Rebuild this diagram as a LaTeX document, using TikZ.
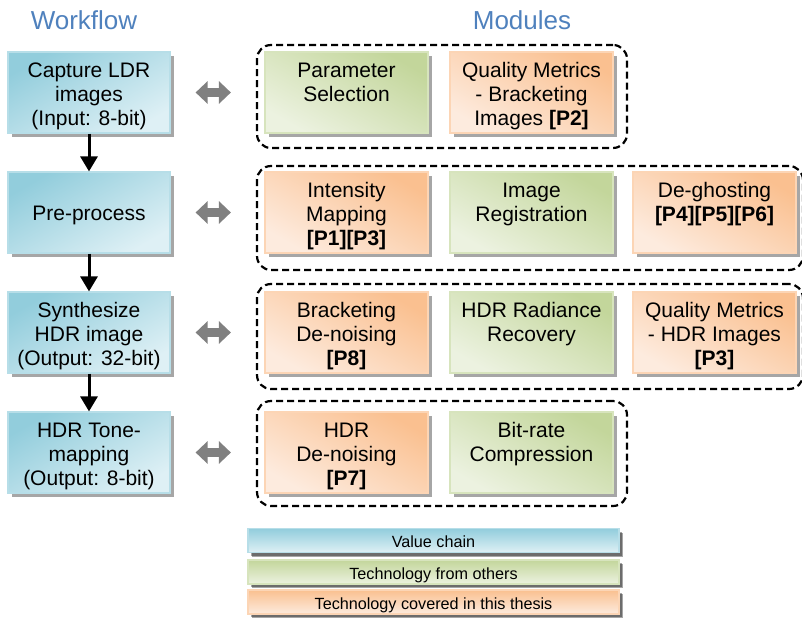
\documentclass[tikz,border=0pt]{standalone}
\usepackage{fontspec}
\setmainfont{Liberation Sans}
\usetikzlibrary{arrows.meta,shadows}
\definecolor{titleblue}{RGB}{79,129,189}
\definecolor{bluedark}{RGB}{146,205,220}
\definecolor{bluelight}{RGB}{222,240,245}
\definecolor{blueline}{RGB}{183,222,232}
\definecolor{greendark}{RGB}{195,214,155}
\definecolor{greenlight}{RGB}{236,242,224}
\definecolor{greenline}{RGB}{215,228,189}
\definecolor{orangedark}{RGB}{250,192,144}
\definecolor{orangelight}{RGB}{253,235,222}
\definecolor{orangeline}{RGB}{252,213,181}
\definecolor{arrowgray}{RGB}{128,128,128}
\newcommand\mybxt[1]{\parbox[c][63.8pt][t]{160pt}{\centering\strut #1}}
\begin{document}
\begin{tikzpicture}[x=1pt,y=-1pt,
  basebox/.style={rectangle, inner sep=0pt, align=center, line width=1.2pt,
    font=\fontsize{21}{24}\selectfont,
    drop shadow={shadow xshift=4pt, shadow yshift=-4pt, fill=black, opacity=0.35}},
  wbox/.style={basebox, minimum width=162pt, minimum height=81pt,
    draw=blueline, top color=bluedark, bottom color=bluelight, shading angle=30},
  gbox/.style={basebox, minimum width=163pt, minimum height=81pt,
    draw=greenline, top color=greendark, bottom color=greenlight, shading angle=-30},
  obox/.style={basebox, minimum width=163pt, minimum height=81pt,
    draw=orangeline, top color=orangedark, bottom color=orangelight, shading angle=-30},
  lbar/.style={basebox, minimum width=371pt, minimum height=24pt,
    font=\fontsize{16.2}{18}\selectfont,
    text height=15pt, text depth=1pt,
    drop shadow={shadow xshift=3pt, shadow yshift=-3pt, fill=black, opacity=0.35}},
  grp/.style={draw=black, line width=2.2pt, dash pattern=on 7pt off 4pt,
    rounded corners=14pt, inner sep=0pt},
  ttl/.style={text=titleblue, font=\fontsize{26}{30}\selectfont},
  varrow/.style={line width=3pt, -{Triangle[length=15pt,width=17pt]}},
  dbl/.style={line width=9pt, draw=arrowgray,
    {Triangle[length=12pt,width=22pt]}-{Triangle[length=12pt,width=22pt]},
    shorten <=25pt, shorten >=25pt}
]
\useasboundingbox (0,0) rectangle (802,618);
\clip (0,0) rectangle (802,618);

% titles
\node[ttl] (tw) at (84,20) {Workflow};
\node[ttl] (tm) at (522,20) {Modules};

% groups
\node[grp, minimum width=370pt, minimum height=103pt] (g1) at (442,96.5) {};
\node[grp, minimum width=546pt, minimum height=104pt] (g2) at (530,218) {};
\node[grp, minimum width=546pt, minimum height=105pt] (g3) at (530,336.5) {};
\node[grp, minimum width=370pt, minimum height=105pt] (g4) at (442,453.5) {};

% workflow
\node[wbox] (w1) at (89,92.5) {\mybxt{Capture LDR\\images\\(Input: 8-bit)}};
\node[wbox, text height=15pt, text depth=0pt] (w2) at (89,212.5) {Pre-process};
\node[wbox] (w3) at (89,332.5) {\mybxt{Synthesize\\HDR image\\(Output: 32-bit)}};
\node[wbox] (w4) at (89,452.5) {\mybxt{HDR Tone-\\mapping\\(Output: 8-bit)}};

\draw[varrow] (w1.south) -- (w2.north);
\draw[varrow] (w2.south) -- (w3.north);
\draw[varrow] (w3.south) -- (w4.north);

% modules
\node[gbox] (m11) at (346.5,92.5) {\mybxt{Parameter\\Selection}};
\node[obox] (m12) at (531.5,92.5) {\mybxt{Quality Metrics\\- Bracketing\\Images \textbf{[P2]}}};

\node[obox] (m21) at (346.5,212.5) {\mybxt{Intensity\\Mapping\\\textbf{[P1][P3]}}};
\node[gbox] (m22) at (531.5,212.5) {\mybxt{Image\\Registration}};
\node[obox] (m23) at (714.5,212.5) {\mybxt{De-ghosting\\\textbf{[P4][P5][P6]}}};

\node[obox] (m31) at (346.5,332.5) {\mybxt{Bracketing\\De-noising\\\textbf{[P8]}}};
\node[gbox] (m32) at (531.5,332.5) {\mybxt{HDR Radiance\\Recovery}};
\node[obox] (m33) at (714.5,332.5) {\mybxt{Quality Metrics\\- HDR Images\\\textbf{[P3]}}};

\node[obox] (m41) at (346.5,452.5) {\mybxt{HDR\\De-noising\\\textbf{[P7]}}};
\node[gbox] (m42) at (531.5,452.5) {\mybxt{Bit-rate\\Compression}};

% double arrows
\draw[dbl] (w1.east) -- (w1.east -| g1.west);
\draw[dbl] (w2.east) -- (w2.east -| g2.west);
\draw[dbl] (w3.east) -- (w3.east -| g3.west);
\draw[dbl] (w4.east) -- (w4.east -| g4.west);

% legend
\node[lbar, draw=blueline, top color=bluedark, bottom color=bluelight] (l1) at (433.5,540.5) {Value chain};
\node[lbar, draw=greenline, top color=greendark, bottom color=greenlight] (l2) at (433.5,572) {Technology from others};
\node[lbar, draw=orangeline, top color=orangedark, bottom color=orangelight] (l3) at (433.5,602) {Technology covered in this thesis};
\end{tikzpicture}
\end{document}
